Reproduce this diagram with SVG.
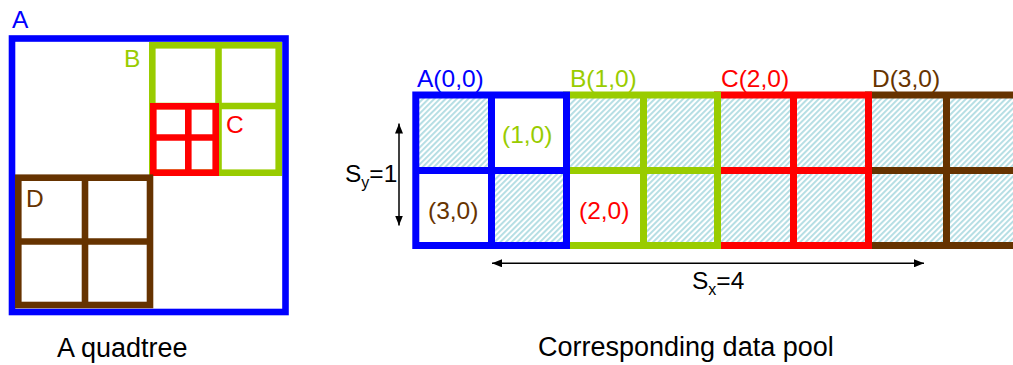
<svg xmlns="http://www.w3.org/2000/svg" width="1013" height="365" viewBox="0 0 1013 365">
<style>
text{font-family:"Liberation Sans",Arial,sans-serif;}
.lbl{font-size:24.5px;}
.cap{font-size:27px;fill:#000;}
.box{fill:none;stroke-width:7;}
.qb{fill:none;stroke-width:6.6;}
.blue{stroke:#0000ff;} .green{stroke:#99cc00;} .red{stroke:#ff0000;} .brown{stroke:#663300;}
.tblue{fill:#0000ff;} .tgreen{fill:#99cc00;} .tred{fill:#ff0000;} .tbrown{fill:#663300;}
.arrow{stroke:#000;stroke-width:1.5;fill:none;marker-start:url(#ah);marker-end:url(#ah);}
</style>
<defs>
<pattern id="hatch" patternUnits="userSpaceOnUse" width="4" height="4" patternTransform="rotate(45)">
<rect width="4" height="4" fill="#ffffff"/>
<rect width="1.9" height="4" fill="#b3dde3"/>
</pattern>
<marker id="ah" markerUnits="userSpaceOnUse" markerWidth="10" markerHeight="8" refX="10" refY="4" orient="auto-start-reverse">
<path d="M0,0 L10,4 L0,8 Z" fill="#000"/>
</marker>
</defs>
<rect width="1013" height="365" fill="#fff"/>

<!-- Quadtree -->
<g id="qA">
<rect class="qb blue" x="12" y="38.5" width="273.5" height="273.5"/>
<text class="lbl tblue" x="12" y="28" font-size="23">A</text>
</g>
<g id="qB">
<rect class="qb green" x="152.3" y="45.3" width="126.4" height="127.4"/>
<line class="qb green" x1="218.5" y1="45.3" x2="218.5" y2="172.7"/>
<line class="qb green" x1="152.3" y1="106" x2="278.7" y2="106"/>
<text class="lbl tgreen" x="124" y="67">B</text>
</g>
<g id="qC">
<rect class="qb red" x="153.3" y="106.3" width="62.4" height="66.4"/>
<line class="qb red" x1="188.3" y1="106.3" x2="188.3" y2="172.7"/>
<line class="qb red" x1="153.3" y1="137.5" x2="215.7" y2="137.5"/>
<text class="lbl tred" x="226" y="133">C</text>
</g>
<g id="qD">
<rect class="qb brown" x="18.3" y="177.7" width="131.7" height="127.3"/>
<line class="qb brown" x1="85" y1="177.7" x2="85" y2="305"/>
<line class="qb brown" x1="18.3" y1="241.5" x2="150" y2="241.5"/>
<text class="lbl tbrown" x="26" y="207">D</text>
</g>
<text id="capQ" class="cap" x="57" y="357">A quadtree</text>

<!-- Data pool -->
<g id="cells">
<rect x="415.8" y="95" width="75.7" height="75.5" fill="url(#hatch)"/>
<rect x="491.5" y="170.5" width="75" height="75" fill="url(#hatch)"/>
<rect x="643.5" y="95" width="380" height="150.5" fill="url(#hatch)"/>
<rect x="566.5" y="95" width="77" height="75.5" fill="url(#hatch)"/>
</g>
<g id="pD">
<rect class="box brown" x="868.5" y="95" width="160" height="150.5"/>
<line class="box brown" x1="946.5" y1="95" x2="946.5" y2="245.5"/>
<line class="box brown" x1="868.5" y1="170.5" x2="1020" y2="170.5"/>
<text class="lbl tbrown" x="872" y="87">D(3,0)</text>
</g>
<g id="pC">
<rect class="box red" x="717.5" y="95" width="151" height="150.5"/>
<line class="box red" x1="793.5" y1="95" x2="793.5" y2="245.5"/>
<line class="box red" x1="717.5" y1="170.5" x2="868.5" y2="170.5"/>
<text class="lbl tred" x="721" y="87">C(2,0)</text>
</g>
<g id="pB">
<rect class="box green" x="566.5" y="95" width="151" height="150.5"/>
<line class="box green" x1="643.5" y1="95" x2="643.5" y2="245.5"/>
<line class="box green" x1="566.5" y1="170.5" x2="717.5" y2="170.5"/>
<text class="lbl tgreen" x="570" y="87">B(1,0)</text>
<text class="lbl tred" x="579" y="219">(2,0)</text>
</g>
<g id="pA">
<rect class="box blue" x="415.8" y="95" width="150.7" height="150.5"/>
<line class="box blue" x1="491.5" y1="95" x2="491.5" y2="245.5"/>
<line class="box blue" x1="415.8" y1="170.5" x2="566.5" y2="170.5"/>
<text class="lbl tblue" x="417" y="87">A(0,0)</text>
<text class="lbl tgreen" x="502" y="143">(1,0)</text>
<text class="lbl tbrown" x="428" y="219">(3,0)</text>
</g>

<g id="connectors">
<line class="arrow" x1="399" y1="123.5" x2="399" y2="225.5"/>
<line class="arrow" x1="492" y1="263.3" x2="924" y2="263.3"/>
</g>
<g id="labels">
<text class="lbl" x="345" y="182" fill="#000">S<tspan font-size="16" dy="6">y</tspan><tspan dy="-6">=1</tspan></text>
<text class="lbl" x="692" y="289" fill="#000">S<tspan font-size="16" dy="6">x</tspan><tspan dy="-6">=4</tspan></text>
</g>
<text id="capP" class="cap" x="538" y="356">Corresponding data pool</text>
</svg>
